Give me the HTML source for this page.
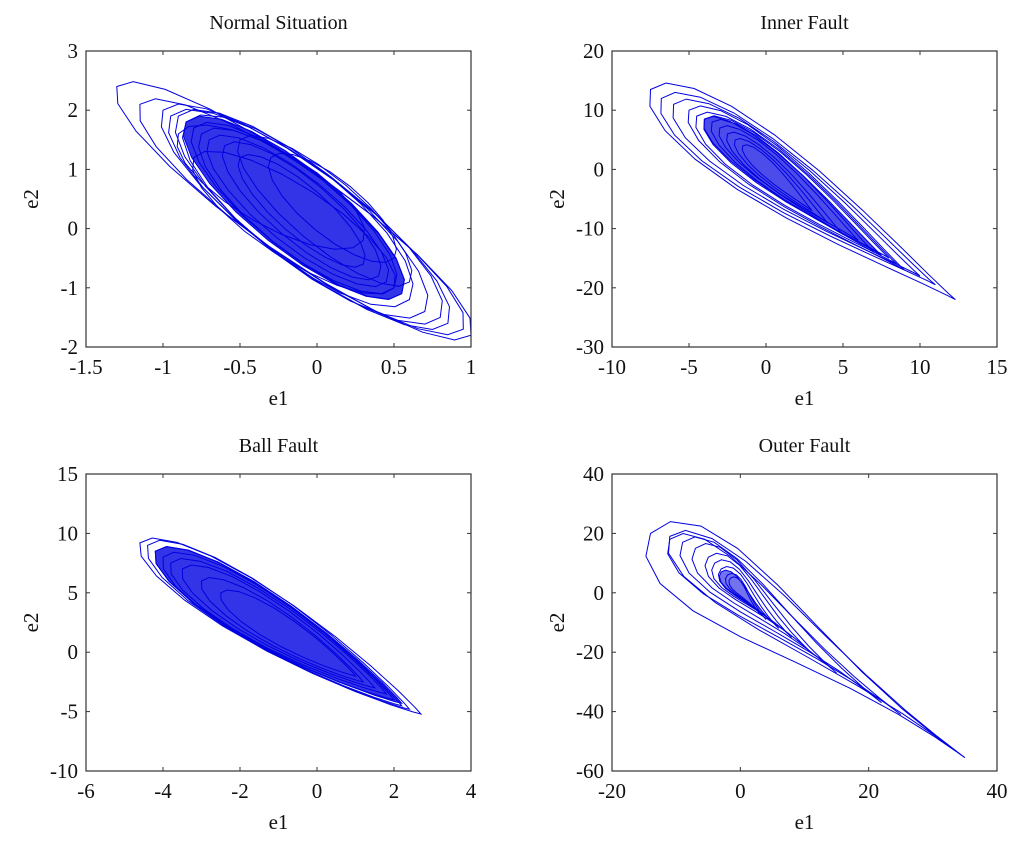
<!DOCTYPE html>
<html><head><meta charset="utf-8"><style>
html,body{margin:0;padding:0;background:#fff}
svg{display:block}
text{font-family:"Liberation Serif",serif;fill:#111}
</style></head><body>
<svg id="fig" width="1024" height="843"></svg>
<script>
// Loops: [x1,y1 (upper-left tip), x2,y2 (lower-right tip), fatness, fillOpacity]
const normalLoops=[[-1.3,2.4,1.0,-1.8,0.2,0],[-1.15,2.1,0.95,-1.7,0.22,0],[-1.0,2.0,0.85,-1.6,0.26,0],[-0.95,1.9,0.8,-1.5,0.28,0],[-0.9,1.9,0.7,-1.4,0.3,0],[-0.85,1.8,0.6,-1.2,0.33,0],[-0.8,1.7,0.55,-1.1,0.3,0],[-0.75,1.6,0.5,-1.0,0.32,0],[-0.7,1.5,0.45,-0.9,0.3,0],[-0.6,1.4,0.4,-0.8,0.3,0],[-0.5,1.2,0.3,-0.6,0.3,0],[-0.9,1.6,0.3,-0.2,0.35,0],[-0.5,1.5,0.6,-0.9,0.3,0],[-0.8,1.2,0.5,-1.0,0.3,0],[-0.3,1.2,0.5,-0.5,0.35,0],[-0.85,1.8,0.55,-1.1,0.3,0.8]];
const innerLoops=[[-7.5,13.5,12.3,-22,0.18,0],[-6.8,12,11,-19.5,0.18,0],[-6,11,10,-18,0.18,0],[-5,10,9,-17,0.18,0],[-4.5,9,8.5,-16,0.18,0],[-4,8.5,8,-15,0.17,0],[-3.5,8,7,-14,0.17,0],[-3,7,6,-12,0.17,0],[-2.5,6,5,-11,0.17,0],[-2,5,4,-9,0.17,0],[-1.5,4,3,-7,0.17,0],[-4,8.5,7.5,-14.5,0.16,0.7]];
const ballLoops=[[-4.6,9.2,2.7,-5.2,0.17,0],[-4.4,9,2.4,-4.8,0.18,0],[-4.2,8.5,2.2,-4.5,0.18,0],[-4,8,2,-4,0.19,0],[-3.8,7.5,1.8,-3.5,0.19,0],[-3.5,7,1.5,-3,0.19,0],[-3,6,1.2,-2.5,0.19,0],[-2.5,5,1,-2,0.19,0],[-4.2,8.5,2.2,-4.3,0.18,0.8]];
const outerLoops=[[-14,20,35,-55.5,0.2,0],[-11,19,35,-55.5,0.14,0],[-11,18,25,-41,0.16,0],[-9,17,22,-37,0.17,0],[-7,15,15,-27,0.2,0],[-5,12,11,-20,0.22,0],[-4,10,8,-15,0.24,0],[-3,8,6,-12,0.25,0],[-2,6,4,-9,0.25,0],[-1.5,5,3,-7,0.25,0],[-3,7,5,-10,0.22,0.55]];
const normalXTicks=[-1.5,-1,-0.5,0,0.5,1], normalYTicks=[-2,-1,0,1,2,3];
const innerXTicks=[-10,-5,0,5,10,15], innerYTicks=[-30,-20,-10,0,10,20];
const ballXTicks=[-6,-4,-2,0,2,4], ballYTicks=[-10,-5,0,5,10,15];
const outerXTicks=[-20,0,20,40], outerYTicks=[-60,-40,-20,0,20,40];

const NS='http://www.w3.org/2000/svg';
const svg=document.getElementById('fig');
function mk(tag,attrs,parent){const e=document.createElementNS(NS,tag);for(const k in attrs)e.setAttribute(k,attrs[k]);(parent||svg).appendChild(e);return e;}

function panel(name,title,L,T,R,B,xt,yt,loops,pw){
  const g=mk('g',{});
  
  
  const x0=xt[0],x1=xt[xt.length-1],y0=yt[0],y1=yt[yt.length-1];
  const sx=v=>L+(v-x0)/(x1-x0)*(R-L);
  const sy=v=>B-(v-y0)/(y1-y0)*(B-T);
  const clipId='clip-'+name;
  const cp=mk('clipPath',{id:clipId},g);mk('rect',{x:L,y:T,width:R-L,height:B-T},cp);
  const lg=mk('g',{'clip-path':'url(#'+clipId+')'},g);
  
  
  const N=20;
  const prof=t=>Math.sin(t)*Math.pow((1+Math.cos(t))/2,pw);
  let mx=0;for(let i=0;i<360;i++){mx=Math.max(mx,prof(i/360*Math.PI));}
  loops.forEach(lp=>{
    const ax=sx(lp[0]),ay=sy(lp[1]),bx=sx(lp[2]),by=sy(lp[3]);
    const cx=(ax+bx)/2,cy=(ay+by)/2,dx=ax-bx,dy=ay-by,len=Math.hypot(dx,dy);
    const ux=dx/len,uy=dy/len,vx=-uy,vy=ux;
    const W=len*lp[4];const pts=[];
    for(let i=0;i<N;i++){const t=i/N*2*Math.PI;const w=W/2*prof(t)/mx;
      pts.push((cx+ux*len/2*Math.cos(t)+vx*w).toFixed(1)+','+(cy+uy*len/2*Math.cos(t)+vy*w).toFixed(1));}
    const p=mk('polygon',{points:pts.join(' '),fill:lp[5]>0?'rgba(0,0,225,'+lp[5]+')':'none',stroke:'#0000e0','stroke-width':1,'stroke-linejoin':'miter'},lg);
    
    
  });
  const box=mk('rect',{x:L,y:T,width:R-L,height:B-T,fill:'none',stroke:'#333','stroke-width':1.2},g);
  
  
  xt.forEach(v=>{const x=sx(v);
    mk('line',{x1:x,y1:B,x2:x,y2:B-4,stroke:'#333'},g);mk('line',{x1:x,y1:T,x2:x,y2:T+4,stroke:'#333'},g);
    const t=mk('text',{x:x,y:B+27,'text-anchor':'middle','font-size':21},g);t.textContent=String(v);
    
    });
  yt.forEach(v=>{const y=sy(v);
    mk('line',{x1:L,y1:y,x2:L+4,y2:y,stroke:'#333'},g);mk('line',{x1:R,y1:y,x2:R-4,y2:y,stroke:'#333'},g);
    const t=mk('text',{x:L-8,y:y+7,'text-anchor':'end','font-size':21},g);t.textContent=String(v);
    
    });
  const tt=mk('text',{x:(L+R)/2,y:T-22,'text-anchor':'middle','font-size':20},g);tt.textContent=title;
  
  
  const xl=mk('text',{x:(L+R)/2,y:B+58,'text-anchor':'middle','font-size':21},g);xl.textContent='e1';
  
  
  const yx=L-48,yy=(T+B)/2;
  const yl=mk('text',{x:yx,y:yy,'text-anchor':'middle','font-size':21,transform:'rotate(-90 '+yx+' '+yy+')'},g);yl.textContent='e2';
  
  
}
panel('normal','Normal Situation',86,51,471,347,normalXTicks,normalYTicks,normalLoops,0);
panel('inner','Inner Fault',612,51,997,347,innerXTicks,innerYTicks,innerLoops,0.7);
panel('ball','Ball Fault',86,474,471,771,ballXTicks,ballYTicks,ballLoops,0.4);
panel('outer','Outer Fault',612,474,997,771,outerXTicks,outerYTicks,outerLoops,1.8);
</script>
</body></html>
